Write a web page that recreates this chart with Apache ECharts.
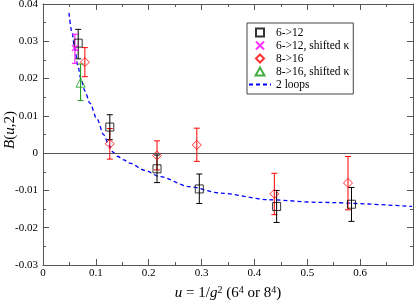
<!DOCTYPE html>
<html><head><meta charset="utf-8">
<script src="https://cdn.jsdelivr.net/npm/echarts@6/dist/echarts.min.js"></script>
<style>html,body{margin:0;padding:0;background:#fff}#c{width:415px;height:300px}</style>
</head><body><div id="c"></div>
<script>
// [u, B, low, high]
const s612 = [[0.0666,0.0295,0.0253,0.0332],[0.1264,0.0070,0.0036,0.0103],[0.2157,-0.0042,-0.0079,-0.0005],[0.2957,-0.0096,-0.0135,-0.0056],[0.442,-0.0143,-0.0186,-0.0100],[0.5836,-0.0137,-0.0183,-0.0092]];
const s612s = [[0.0604,0.0282,0.0241,0.0319]];
const s816 = [[0.0792,0.0244,0.0205,0.0283],[0.1264,0.0025,-0.0016,0.0066],[0.2157,-0.0006,-0.0045,0.0033],[0.291,0.0022,-0.0022,0.0067],[0.4377,-0.0109,-0.0165,-0.0054],[0.577,-0.0080,-0.0152,-0.0009]];
const s816s = [[0.0711,0.0189,0.0141,0.0239]];
const loops2 = [[0.0491,0.0376],[0.0547,0.0325],[0.0604,0.0277],[0.0660,0.0234],[0.0717,0.0199],[0.0792,0.0167],[0.0887,0.0134],[0.1019,0.0092],[0.1151,0.0049],[0.1245,0.0022],[0.1321,0.0003],[0.1415,-0.0009],[0.1528,-0.0018],[0.1642,-0.0027],[0.1925,-0.0046],[0.2208,-0.0063],[0.2774,-0.0090],[0.3340,-0.0107],[0.4283,-0.0125],[0.5226,-0.0132],[0.6981,-0.0143]];
const xTicks = ['0','0.1','0.2','0.3','0.4','0.5','0.6'];
const names = ['6->12','6->12, shifted κ','8->16','8->16, shifted κ','2 loops'];

const FONT = 'Liberation Serif';
const AX = '#555';
const P_RECT = 'path://M0,0L10,0L10,10L0,10Z';
const P_DIAM = 'path://M5,0L10,5L5,10L0,5Z';
const P_TRI = 'path://M5,0L10,9L0,9Z';
const P_X = 'path://M0,0L10,10M10,0L0,10';
function errSeries(data, color){
  return {type:'custom', data:data, z:3, silent:true,
    renderItem:function(params, api){
      const x=api.value(0), lo=api.value(2), hi=api.value(3);
      const a=api.coord([x,lo]), b=api.coord([x,hi]); const c=3;
      const st={stroke:color,lineWidth:1};
      return {type:'group',children:[
        {type:'line',shape:{x1:a[0],y1:a[1],x2:b[0],y2:b[1]},style:st},
        {type:'line',shape:{x1:a[0]-c,y1:a[1],x2:a[0]+c,y2:a[1]},style:st},
        {type:'line',shape:{x1:b[0]-c,y1:b[1],x2:b[0]+c,y2:b[1]},style:st}]};
    }};
}
function axisCommon(){
  return {axisLine:{show:true,onZero:false,lineStyle:{color:AX,width:1}},
    axisTick:{show:true,inside:true,length:6,lineStyle:{color:AX}},
    minorTick:{show:true,splitNumber:2,length:3,lineStyle:{color:AX}},
    splitLine:{show:false}};
}
const chart = echarts.init(document.getElementById('c'),null,{renderer:'canvas'});
chart.setOption({
  animation:false,
  grid:{left:43,right:2,top:4,bottom:35,containLabel:false,outerBoundsMode:'none'},
  graphic:[{type:'text',x:10,y:130,rotation:Math.PI/2,
    style:{text:'{i|B}({i|u},2)',align:'center',verticalAlign:'middle',fill:'#000',
      font:'15px "Liberation Serif"',rich:{i:{fontFamily:FONT,fontSize:15,fontStyle:'italic'}}}}],
  xAxis:[
    Object.assign(axisCommon(),{type:'value',min:0,max:0.7,interval:0.1,position:'bottom',
      axisLabel:{fontFamily:FONT,fontSize:11,color:'#000',margin:3,
        formatter:function(v){const i=Math.round(v*10);return i<xTicks.length?xTicks[i]:'';}},
      name:'{i|u} = 1/{i|g}{s|2} (6{s|4} or 8{s|4})',nameLocation:'middle',nameGap:20,
      nameTextStyle:{fontFamily:FONT,fontSize:15,color:'#000',
        rich:{i:{fontFamily:FONT,fontSize:15,fontStyle:'italic'},s:{fontFamily:FONT,fontSize:10,padding:[0,0,7,0]}}}}),
    Object.assign(axisCommon(),{type:'value',min:0,max:0.7,interval:0.1,position:'top',axisLabel:{show:false}})
  ],
  yAxis:[
    Object.assign(axisCommon(),{type:'value',min:-0.03,max:0.04,interval:0.01,position:'left',
      axisLabel:{fontFamily:FONT,fontSize:11,color:'#000',margin:5}}),
    Object.assign(axisCommon(),{type:'value',min:-0.03,max:0.04,interval:0.01,position:'right',axisLabel:{show:false}})
  ],
  legend:{data:[{name:names[0],icon:P_RECT},{name:names[1],icon:P_X},{name:names[2],icon:P_DIAM},{name:names[3],icon:P_TRI},
      {name:names[4],itemStyle:{opacity:0,color:'rgba(0,0,0,0)',borderWidth:0}}],
    orient:'vertical',left:247,top:23,padding:[3,4,3,1],itemGap:0,itemWidth:22,itemHeight:8,symbolKeepAspect:true,
    borderColor:'#444',borderWidth:1,backgroundColor:'#fff',
    textStyle:{fontFamily:FONT,fontSize:11.5,color:'#000',lineHeight:13}},
  series:[
    {name:'2 loops',type:'line',data:loops2,showSymbol:false,symbol:'none',smooth:0.3,smoothMonotone:'x',z:1,
      lineStyle:{color:'#0000ff',width:1.3,type:[4,3]},itemStyle:{color:'#0000ff'},
      markLine:{silent:true,symbol:'none',label:{show:false},lineStyle:{color:AX,width:1,type:'solid'},data:[{yAxis:0}]}},
    errSeries(s816,'#ff0000'),
    errSeries(s612,'#000000'),
    errSeries(s612s,'#ff00ff'),
    errSeries(s816s,'#159a15'),
    {name:'8->16',type:'scatter',data:s816,symbol:P_DIAM,symbolSize:9,z:4,
      itemStyle:{color:'rgba(0,0,0,0)',borderColor:'#ff0000',borderWidth:1}},
    {name:'6->12',type:'scatter',data:s612,symbol:P_RECT,symbolSize:8,z:4,
      itemStyle:{color:'rgba(0,0,0,0)',borderColor:'#000',borderWidth:1}},
    {name:'6->12, shifted κ',type:'scatter',data:s612s,symbol:P_X,symbolSize:6,z:4,
      itemStyle:{color:'rgba(0,0,0,0)',borderColor:'#ff00ff',borderWidth:1.2}},
    {name:'8->16, shifted κ',type:'scatter',data:s816s,symbol:P_TRI,symbolSize:9,z:4,
      itemStyle:{color:'rgba(0,0,0,0)',borderColor:'#159a15',borderWidth:1}}
  ]
});
</script></body></html>
